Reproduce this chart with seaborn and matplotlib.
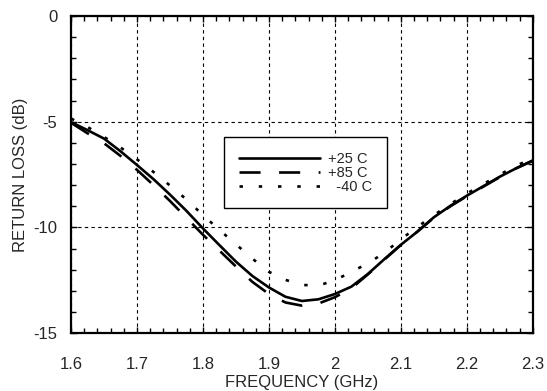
import matplotlib
matplotlib.use("Agg")
import matplotlib.pyplot as plt
from matplotlib.ticker import MultipleLocator
import seaborn as sns
import pandas as pd

# frequency points (GHz)
freq = [1.600, 1.625, 1.650, 1.675, 1.700, 1.725, 1.750, 1.775, 1.800, 1.825,
        1.850, 1.875, 1.900, 1.925, 1.950, 1.975, 2.000, 2.025, 2.050, 2.075,
        2.100, 2.125, 2.150, 2.175, 2.200, 2.225, 2.250, 2.275, 2.300]

# return loss (dB)
rl_25 = [-5.02, -5.40, -5.80, -6.40, -7.05, -7.72, -8.45, -9.22, -10.05, -10.84,
         -11.62, -12.30, -12.84, -13.28, -13.48, -13.40, -13.15, -12.80, -12.20, -11.50,
         -10.82, -10.20, -9.52, -8.98, -8.50, -8.05, -7.60, -7.20, -6.85]
rl_85 = [-5.05, -5.55, -6.02, -6.62, -7.28, -8.00, -8.75, -9.55, -10.35, -11.10,
         -11.85, -12.58, -13.15, -13.55, -13.70, -13.60, -13.30, -12.88, -12.22, -11.52,
         -10.83, -10.20, -9.54, -9.00, -8.52, -8.07, -7.62, -7.20, -6.83]
rl_m40 = [-4.85, -5.25, -5.72, -6.22, -6.78, -7.38, -8.02, -8.68, -9.42, -10.12,
          -10.80, -11.48, -12.10, -12.48, -12.72, -12.75, -12.50, -12.10, -11.70, -11.20,
          -10.56, -9.98, -9.42, -8.90, -8.40, -7.95, -7.50, -7.08, -6.72]

labels = ["+25 C", "+85 C", "-40 C"]
xtick_vals = [1.6, 1.7, 1.8, 1.9, 2.0, 2.1, 2.2, 2.3]
xtick_labels = ["1.6", "1.7", "1.8", "1.9", "2", "2.1", "2.2", "2.3"]
ytick_vals = [0, -5, -10, -15]
ytick_labels = ["0", "-5", "-10", "-15"]

df = pd.concat([
    pd.DataFrame({"freq": freq, "rl": rl_25, "temp": labels[0]}),
    pd.DataFrame({"freq": freq, "rl": rl_85, "temp": labels[1]}),
    pd.DataFrame({"freq": freq, "rl": rl_m40, "temp": labels[2]}),
])

sns.set_style("ticks")
plt.rcParams["font.family"] = ["Liberation Sans", "DejaVu Sans"]

fig = plt.figure(figsize=(5.47, 3.91), dpi=100)
ax = fig.add_axes([0.130, 0.148, 0.844, 0.811])

sns.lineplot(data=df, x="freq", y="rl", style="temp", color="black",
             dashes={labels[0]: "", labels[1]: (8, 7), labels[2]: (1.3, 6)},
             linewidth=1.9, sort=False, ax=ax)

ax.set_xlim(1.6, 2.3)
ax.set_ylim(-15, 0)
ax.xaxis.set_minor_locator(MultipleLocator(0.02))
ax.yaxis.set_minor_locator(MultipleLocator(1))
ax.set_xticks(xtick_vals)
ax.set_xticklabels(xtick_labels)
ax.set_yticks(ytick_vals)
ax.set_yticklabels(ytick_labels)

ax.tick_params(which="both", direction="in", top=True, right=True,
               color="black", labelsize=12)
ax.tick_params(axis="x", which="major", pad=17)
ax.tick_params(axis="y", which="major", pad=10)
ax.tick_params(which="major", length=4, width=1)
ax.tick_params(which="minor", length=3.5, width=1)

ax.grid(True, which="major", color="black", linestyle=(0, (3, 3)), linewidth=0.8)
for s in ax.spines.values():
    s.set_linewidth(1.6)
    s.set_color("black")

ax.set_xlabel("FREQUENCY (GHz)", fontsize=12, labelpad=2)
ax.set_ylabel("RETURN LOSS (dB)", fontsize=12, labelpad=4)

handles, labs = ax.get_legend_handles_labels()
leg_labels = ["+25 C", "+85 C", "  -40 C"]
leg = ax.legend(handles, leg_labels, loc="upper left", bbox_to_anchor=(0.331, 0.618),
                borderaxespad=0, fontsize=10.5, handlelength=5.6, handletextpad=0.55,
                labelspacing=0.0, borderpad=1.0, fancybox=False, framealpha=1,
                edgecolor="black")
leg.get_frame().set_linewidth(1.0)

fig.savefig("out.png", dpi=100)
